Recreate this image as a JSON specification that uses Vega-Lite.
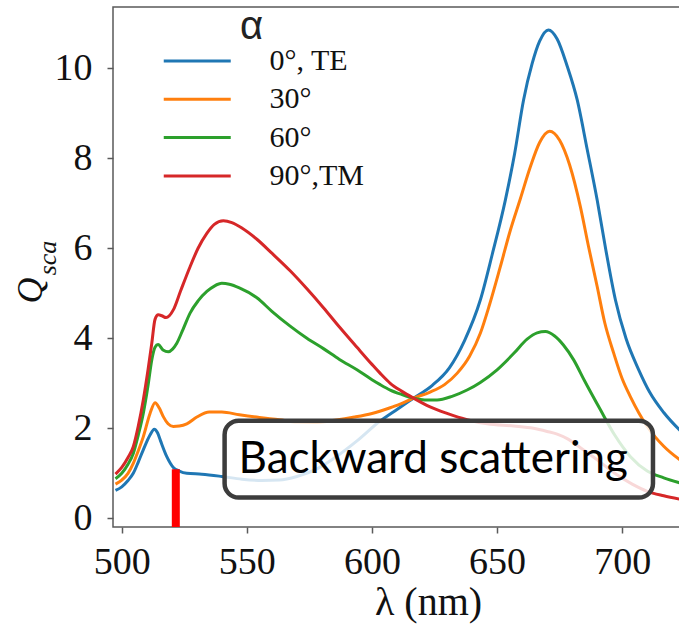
{
  "$schema": "https://vega.github.io/schema/vega-lite/v6.json",
  "width": 567,
  "height": 520,
  "autosize": {"type": "none"},
  "padding": {"left": 113, "top": 7, "right": 0, "bottom": 103},
  "background": "white",
  "config": {
    "view": {"stroke": "#5a5a5a", "strokeWidth": 1.5},
    "axis": {
      "grid": false, "domain": false,
      "tickColor": "#5a5a5a", "tickWidth": 1.5, "tickSize": 6,
      "labelFont": "Liberation Serif", "labelFontSize": 38, "labelColor": "#111111",
      "titleFont": "Liberation Serif", "titleColor": "#111111", "titleFontWeight": "normal"
    }
  },
  "datasets": {
    "curves": [
      {"alpha": "0°, TE", "wl": 497.5, "q": 0.62}, {"alpha": "0°, TE", "wl": 500, "q": 0.70}, {"alpha": "0°, TE", "wl": 502.5, "q": 0.84}, {"alpha": "0°, TE", "wl": 504.6, "q": 1.0}, {"alpha": "0°, TE", "wl": 506.6, "q": 1.25}, {"alpha": "0°, TE", "wl": 508.6, "q": 1.52}, {"alpha": "0°, TE", "wl": 511.3, "q": 1.85}, {"alpha": "0°, TE", "wl": 513, "q": 1.98}, {"alpha": "0°, TE", "wl": 514.3, "q": 1.9}, {"alpha": "0°, TE", "wl": 515.5, "q": 1.72}, {"alpha": "0°, TE", "wl": 518, "q": 1.37}, {"alpha": "0°, TE", "wl": 520.6, "q": 1.13}, {"alpha": "0°, TE", "wl": 523, "q": 1.05}, {"alpha": "0°, TE", "wl": 526, "q": 1.0}, {"alpha": "0°, TE", "wl": 532, "q": 0.98}, {"alpha": "0°, TE", "wl": 540, "q": 0.93}, {"alpha": "0°, TE", "wl": 548, "q": 0.87}, {"alpha": "0°, TE", "wl": 556, "q": 0.84}, {"alpha": "0°, TE", "wl": 563, "q": 0.85}, {"alpha": "0°, TE", "wl": 570, "q": 0.93}, {"alpha": "0°, TE", "wl": 578, "q": 1.1}, {"alpha": "0°, TE", "wl": 586, "q": 1.38}, {"alpha": "0°, TE", "wl": 594, "q": 1.72}, {"alpha": "0°, TE", "wl": 603, "q": 2.15}, {"alpha": "0°, TE", "wl": 610, "q": 2.42}, {"alpha": "0°, TE", "wl": 616.6, "q": 2.67}, {"alpha": "0°, TE", "wl": 624, "q": 2.95}, {"alpha": "0°, TE", "wl": 631, "q": 3.35}, {"alpha": "0°, TE", "wl": 637, "q": 3.95}, {"alpha": "0°, TE", "wl": 643.3, "q": 4.85}, {"alpha": "0°, TE", "wl": 648, "q": 5.85}, {"alpha": "0°, TE", "wl": 653.3, "q": 7.07}, {"alpha": "0°, TE", "wl": 657, "q": 8.1}, {"alpha": "0°, TE", "wl": 660.6, "q": 9.3}, {"alpha": "0°, TE", "wl": 664, "q": 10.1}, {"alpha": "0°, TE", "wl": 667, "q": 10.6}, {"alpha": "0°, TE", "wl": 670.5, "q": 10.85}, {"alpha": "0°, TE", "wl": 674, "q": 10.65}, {"alpha": "0°, TE", "wl": 678, "q": 10.05}, {"alpha": "0°, TE", "wl": 682, "q": 9.3}, {"alpha": "0°, TE", "wl": 686, "q": 8.2}, {"alpha": "0°, TE", "wl": 690, "q": 7.07}, {"alpha": "0°, TE", "wl": 693.5, "q": 5.95}, {"alpha": "0°, TE", "wl": 697.3, "q": 4.85}, {"alpha": "0°, TE", "wl": 701.5, "q": 4.0}, {"alpha": "0°, TE", "wl": 706.6, "q": 3.3}, {"alpha": "0°, TE", "wl": 711, "q": 2.8}, {"alpha": "0°, TE", "wl": 716.6, "q": 2.35}, {"alpha": "0°, TE", "wl": 723.5, "q": 1.93},
      {"alpha": "30°", "wl": 497.5, "q": 0.76}, {"alpha": "30°", "wl": 500, "q": 0.85}, {"alpha": "30°", "wl": 502.5, "q": 1.0}, {"alpha": "30°", "wl": 504.6, "q": 1.22}, {"alpha": "30°", "wl": 506.6, "q": 1.5}, {"alpha": "30°", "wl": 508.6, "q": 1.81}, {"alpha": "30°", "wl": 511.3, "q": 2.33}, {"alpha": "30°", "wl": 513.3, "q": 2.57}, {"alpha": "30°", "wl": 515, "q": 2.45}, {"alpha": "30°", "wl": 516.6, "q": 2.26}, {"alpha": "30°", "wl": 518.5, "q": 2.1}, {"alpha": "30°", "wl": 520.6, "q": 2.04}, {"alpha": "30°", "wl": 523, "q": 2.05}, {"alpha": "30°", "wl": 526, "q": 2.1}, {"alpha": "30°", "wl": 530, "q": 2.25}, {"alpha": "30°", "wl": 535, "q": 2.36}, {"alpha": "30°", "wl": 540, "q": 2.36}, {"alpha": "30°", "wl": 547, "q": 2.3}, {"alpha": "30°", "wl": 555, "q": 2.24}, {"alpha": "30°", "wl": 563, "q": 2.19}, {"alpha": "30°", "wl": 570, "q": 2.14}, {"alpha": "30°", "wl": 577, "q": 2.13}, {"alpha": "30°", "wl": 585, "q": 2.18}, {"alpha": "30°", "wl": 593, "q": 2.25}, {"alpha": "30°", "wl": 600, "q": 2.33}, {"alpha": "30°", "wl": 607, "q": 2.45}, {"alpha": "30°", "wl": 611, "q": 2.53}, {"alpha": "30°", "wl": 616.6, "q": 2.67}, {"alpha": "30°", "wl": 623, "q": 2.8}, {"alpha": "30°", "wl": 629, "q": 2.97}, {"alpha": "30°", "wl": 634, "q": 3.22}, {"alpha": "30°", "wl": 639, "q": 3.6}, {"alpha": "30°", "wl": 643.3, "q": 4.11}, {"alpha": "30°", "wl": 647, "q": 4.75}, {"alpha": "30°", "wl": 651.3, "q": 5.59}, {"alpha": "30°", "wl": 655.3, "q": 6.4}, {"alpha": "30°", "wl": 659.3, "q": 7.1}, {"alpha": "30°", "wl": 663.3, "q": 7.81}, {"alpha": "30°", "wl": 667, "q": 8.35}, {"alpha": "30°", "wl": 671, "q": 8.6}, {"alpha": "30°", "wl": 675, "q": 8.4}, {"alpha": "30°", "wl": 679, "q": 7.85}, {"alpha": "30°", "wl": 683.3, "q": 6.92}, {"alpha": "30°", "wl": 686.5, "q": 6.05}, {"alpha": "30°", "wl": 690, "q": 5.15}, {"alpha": "30°", "wl": 693, "q": 4.35}, {"alpha": "30°", "wl": 696.6, "q": 3.67}, {"alpha": "30°", "wl": 700, "q": 3.1}, {"alpha": "30°", "wl": 703.3, "q": 2.7}, {"alpha": "30°", "wl": 710, "q": 2.04}, {"alpha": "30°", "wl": 716.6, "q": 1.6}, {"alpha": "30°", "wl": 723.5, "q": 1.28},
      {"alpha": "60°", "wl": 497.5, "q": 0.88}, {"alpha": "60°", "wl": 500, "q": 1.0}, {"alpha": "60°", "wl": 502.5, "q": 1.2}, {"alpha": "60°", "wl": 504.6, "q": 1.44}, {"alpha": "60°", "wl": 506.6, "q": 1.85}, {"alpha": "60°", "wl": 508.6, "q": 2.33}, {"alpha": "60°", "wl": 510.5, "q": 2.95}, {"alpha": "60°", "wl": 512, "q": 3.52}, {"alpha": "60°", "wl": 513.3, "q": 3.8}, {"alpha": "60°", "wl": 514.5, "q": 3.86}, {"alpha": "60°", "wl": 516.5, "q": 3.74}, {"alpha": "60°", "wl": 518.6, "q": 3.7}, {"alpha": "60°", "wl": 520.3, "q": 3.76}, {"alpha": "60°", "wl": 522, "q": 3.89}, {"alpha": "60°", "wl": 524.5, "q": 4.2}, {"alpha": "60°", "wl": 527.3, "q": 4.56}, {"alpha": "60°", "wl": 530.5, "q": 4.83}, {"alpha": "60°", "wl": 534, "q": 5.04}, {"alpha": "60°", "wl": 537, "q": 5.16}, {"alpha": "60°", "wl": 540, "q": 5.22}, {"alpha": "60°", "wl": 543, "q": 5.2}, {"alpha": "60°", "wl": 547, "q": 5.12}, {"alpha": "60°", "wl": 554, "q": 4.9}, {"alpha": "60°", "wl": 560, "q": 4.6}, {"alpha": "60°", "wl": 567.3, "q": 4.27}, {"alpha": "60°", "wl": 574, "q": 4.0}, {"alpha": "60°", "wl": 580.6, "q": 3.77}, {"alpha": "60°", "wl": 587, "q": 3.53}, {"alpha": "60°", "wl": 594, "q": 3.3}, {"alpha": "60°", "wl": 600, "q": 3.08}, {"alpha": "60°", "wl": 603.3, "q": 2.97}, {"alpha": "60°", "wl": 607.3, "q": 2.85}, {"alpha": "60°", "wl": 612, "q": 2.75}, {"alpha": "60°", "wl": 616.6, "q": 2.67}, {"alpha": "60°", "wl": 621, "q": 2.63}, {"alpha": "60°", "wl": 626, "q": 2.63}, {"alpha": "60°", "wl": 632, "q": 2.71}, {"alpha": "60°", "wl": 638, "q": 2.85}, {"alpha": "60°", "wl": 643.3, "q": 3.02}, {"alpha": "60°", "wl": 650, "q": 3.3}, {"alpha": "60°", "wl": 656.6, "q": 3.66}, {"alpha": "60°", "wl": 662, "q": 3.98}, {"alpha": "60°", "wl": 666, "q": 4.12}, {"alpha": "60°", "wl": 669.3, "q": 4.15}, {"alpha": "60°", "wl": 673, "q": 4.05}, {"alpha": "60°", "wl": 676.5, "q": 3.85}, {"alpha": "60°", "wl": 680.6, "q": 3.52}, {"alpha": "60°", "wl": 685, "q": 3.05}, {"alpha": "60°", "wl": 691.3, "q": 2.41}, {"alpha": "60°", "wl": 697, "q": 1.85}, {"alpha": "60°", "wl": 703.3, "q": 1.37}, {"alpha": "60°", "wl": 710, "q": 1.05}, {"alpha": "60°", "wl": 716.6, "q": 0.9}, {"alpha": "60°", "wl": 723.5, "q": 0.78},
      {"alpha": "90°,TM", "wl": 497.5, "q": 0.98}, {"alpha": "90°,TM", "wl": 500, "q": 1.13}, {"alpha": "90°,TM", "wl": 502.5, "q": 1.35}, {"alpha": "90°,TM", "wl": 504.6, "q": 1.59}, {"alpha": "90°,TM", "wl": 506.6, "q": 2.05}, {"alpha": "90°,TM", "wl": 508.6, "q": 2.63}, {"alpha": "90°,TM", "wl": 510.5, "q": 3.3}, {"alpha": "90°,TM", "wl": 512, "q": 3.89}, {"alpha": "90°,TM", "wl": 513.3, "q": 4.42}, {"alpha": "90°,TM", "wl": 514.6, "q": 4.52}, {"alpha": "90°,TM", "wl": 516, "q": 4.5}, {"alpha": "90°,TM", "wl": 517.7, "q": 4.46}, {"alpha": "90°,TM", "wl": 519, "q": 4.5}, {"alpha": "90°,TM", "wl": 520.6, "q": 4.63}, {"alpha": "90°,TM", "wl": 523.5, "q": 5.05}, {"alpha": "90°,TM", "wl": 527.3, "q": 5.59}, {"alpha": "90°,TM", "wl": 530.5, "q": 6.0}, {"alpha": "90°,TM", "wl": 534, "q": 6.33}, {"alpha": "90°,TM", "wl": 537, "q": 6.53}, {"alpha": "90°,TM", "wl": 540.6, "q": 6.61}, {"alpha": "90°,TM", "wl": 544, "q": 6.57}, {"alpha": "90°,TM", "wl": 548, "q": 6.45}, {"alpha": "90°,TM", "wl": 554, "q": 6.2}, {"alpha": "90°,TM", "wl": 560, "q": 5.89}, {"alpha": "90°,TM", "wl": 567.3, "q": 5.5}, {"alpha": "90°,TM", "wl": 574, "q": 5.1}, {"alpha": "90°,TM", "wl": 580.6, "q": 4.68}, {"alpha": "90°,TM", "wl": 587, "q": 4.25}, {"alpha": "90°,TM", "wl": 594, "q": 3.8}, {"alpha": "90°,TM", "wl": 600, "q": 3.42}, {"alpha": "90°,TM", "wl": 603.3, "q": 3.22}, {"alpha": "90°,TM", "wl": 607.3, "q": 3.0}, {"alpha": "90°,TM", "wl": 612, "q": 2.82}, {"alpha": "90°,TM", "wl": 616.6, "q": 2.67}, {"alpha": "90°,TM", "wl": 623, "q": 2.48}, {"alpha": "90°,TM", "wl": 630, "q": 2.33}, {"alpha": "90°,TM", "wl": 638, "q": 2.19}, {"alpha": "90°,TM", "wl": 646, "q": 2.1}, {"alpha": "90°,TM", "wl": 656.6, "q": 2.05}, {"alpha": "90°,TM", "wl": 664.5, "q": 2.0}, {"alpha": "90°,TM", "wl": 670, "q": 1.93}, {"alpha": "90°,TM", "wl": 674, "q": 1.87}, {"alpha": "90°,TM", "wl": 678, "q": 1.77}, {"alpha": "90°,TM", "wl": 683.3, "q": 1.57}, {"alpha": "90°,TM", "wl": 690, "q": 1.3}, {"alpha": "90°,TM", "wl": 697, "q": 1.0}, {"alpha": "90°,TM", "wl": 704, "q": 0.76}, {"alpha": "90°,TM", "wl": 710, "q": 0.6}, {"alpha": "90°,TM", "wl": 716.6, "q": 0.5}, {"alpha": "90°,TM", "wl": 723.5, "q": 0.42}
    ],
    "box": [{"wl": 541.1, "wl2": 712.3, "q": 2.17, "q2": 0.46, "label": "Backward scattering", "tx": 624.5, "ty": 1.0}],
    "marker": [{"wl": 521.6, "q": 1.09, "q2": -0.193}]
  },
  "layer": [
    {
      "data": {"name": "curves"},
      "mark": {"type": "line", "strokeWidth": 3, "interpolate": "monotone", "clip": true},
      "encoding": {
        "x": {
          "field": "wl", "type": "quantitative",
          "scale": {"domain": [496.5, 723.1], "nice": false, "zero": false},
          "axis": {"values": [500, 550, 600, 650, 700], "title": "λ (nm)", "titleFontSize": 40, "titleX": 315, "titleY": 87, "titleBaseline": "alphabetic", "titleAlign": "center", "labelPadding": 10, "labelFlush": false}
        },
        "y": {
          "field": "q", "type": "quantitative",
          "scale": {"domain": [-0.193, 11.36], "nice": false, "zero": false},
          "axis": {"values": [0, 2, 4, 6, 8, 10], "title": "Q", "titleFontSize": 36, "titleFontStyle": "italic", "titleX": -72, "titleY": 283, "titleAngle": -90, "titleBaseline": "alphabetic", "titleAlign": "center", "labelPadding": 15}
        },
        "color": {
          "field": "alpha", "type": "nominal",
          "scale": {"domain": ["0°, TE", "30°", "60°", "90°,TM"], "range": ["#1f77b4", "#ff7f0e", "#2ca02c", "#d62728"]},
          "legend": {
            "orient": "none", "legendX": 49, "legendY": 0, "padding": 0,
            "title": "α", "titleFont": "Liberation Sans", "titleFontSize": 40, "titleFontWeight": "normal", "titleColor": "#222222", "titleAnchor": "middle", "titleAlign": "right", "titleBaseline": "top", "titlePadding": -4.5,
            "symbolType": "M-1,0H3", "symbolSize": 1122, "symbolStrokeWidth": 3,
            "labelFont": "Liberation Serif", "labelFontSize": 30, "labelColor": "#111111", "labelOffset": 70.5, "labelLimit": 300,
            "rowPadding": 4.3
          }
        }
      }
    },
    {
      "data": {"name": "box"},
      "mark": {"type": "rect", "fill": "white", "fillOpacity": 0.82, "stroke": "#3c3c3c", "strokeWidth": 4.5, "cornerRadius": 14},
      "encoding": {
        "x": {"field": "wl", "type": "quantitative"},
        "x2": {"field": "wl2"},
        "y": {"field": "q", "type": "quantitative", "axis": null},
        "y2": {"field": "q2"}
      }
    },
    {
      "data": {"name": "box"},
      "mark": {"type": "text", "font": "Lato", "fontSize": 44, "align": "center", "baseline": "alphabetic", "color": "#000000"},
      "encoding": {
        "x": {"field": "tx", "type": "quantitative"},
        "y": {"field": "ty", "type": "quantitative", "axis": null},
        "text": {"field": "label"}
      }
    },
    {
      "data": {"name": "marker"},
      "mark": {"type": "rule", "color": "#ff0000", "strokeWidth": 8},
      "encoding": {
        "x": {"field": "wl", "type": "quantitative"},
        "y": {
          "field": "q", "type": "quantitative",
          "scale": {"domain": [-0.193, 11.36], "nice": false, "zero": false},
          "axis": {"orient": "left", "title": "sca", "domain": false, "ticks": false, "labels": false, "titleFontSize": 26, "titleFontStyle": "italic", "titleX": -58, "titleY": 250.5, "titleAngle": -90, "titleBaseline": "alphabetic", "titleAlign": "center"}
        },
        "y2": {"field": "q2"}
      }
    }
  ],
  "resolve": {"axis": {"y": "independent"}}
}
